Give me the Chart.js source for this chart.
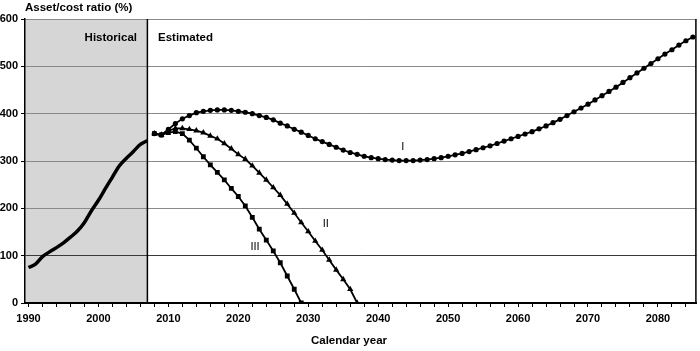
<!DOCTYPE html>
<html>
<head>
<meta charset="utf-8">
<script src="https://cdn.jsdelivr.net/npm/chart.js@4.4.1/dist/chart.umd.min.js"></script>
<style>
  body { margin: 0; background: #fff; }
  canvas { display: block; }
</style>
</head>
<body>
<canvas id="myChart" width="700" height="351"></canvas>
<script>
// values, one per calendar year
const histStart = 1990
const histValues = [75, 82, 98, 108, 117, 127, 139, 152, 170, 195, 217, 242, 266, 290, 306, 320, 335, 343]

const projStart = 2008
const seriesI = [
  358, 355, 367, 379, 389, 396, 402, 405, 407, 408, 408, 407, 405, 403, 400, 396, 392, 387, 380, 374,
  367, 361, 354, 347, 341, 335, 329, 323, 318, 314, 310, 307, 305, 303, 302, 301, 301, 301, 302, 303,
  305, 307, 310, 313, 316, 320, 324, 328, 332, 337, 342, 347, 352, 357, 362, 368, 374, 381, 388, 396,
  404, 412, 420, 429, 438, 447, 456, 466, 476, 486, 496, 506, 516, 526, 535, 545, 554, 562
]
const seriesII = [
  358, 355, 364, 369, 369, 367, 364, 360, 353, 347, 337, 326, 314, 304, 290, 275, 260, 244, 228, 209,
  190, 170, 151, 131, 112, 91, 70, 50, 29, 0
]
const seriesIII = [
  358, 355, 360, 362, 358, 344, 327, 309, 292, 276, 260, 242, 225, 205, 181, 156, 133, 110, 85, 57,
  29, 0
]

const xTickLabels = [1990, 2000, 2010, 2020, 2030, 2040, 2050, 2060, 2070, 2080]
const yTickLabels = [0, 100, 200, 300, 400, 500, 600]
const histEnd = 2007

const seriesNames = ["I", "II", "III"]
const nameSpots = [[2043.5, 330], [2032.5, 167], [2022.4, 118]]

const FONT = "'Liberation Sans', Arial, sans-serif"

function toPoints(start, values) {
  return values.map((v, i) => ({ x: start + i, y: v }))
}

const tickYears = []
for (let y = 1990; y <= 2084; y += 2) tickYears.push(y)

const decorations = {
  id: "decorations",
  beforeDraw(chart) {
    const { ctx, chartArea, scales } = chart
    const xEnd = scales.x.getPixelForValue(histEnd)
    ctx.save()
    ctx.fillStyle = "#d6d6d6"
    ctx.fillRect(chartArea.left, chartArea.top, xEnd - chartArea.left, chartArea.bottom - chartArea.top)
    ctx.restore()
  },
  afterDatasetsDraw(chart) {
    const { ctx, chartArea, scales } = chart
    const xEnd = scales.x.getPixelForValue(histEnd)
    ctx.save()
    ctx.strokeStyle = "#000"
    ctx.lineWidth = 1.5
    ctx.beginPath()
    ctx.moveTo(xEnd, chartArea.top)
    ctx.lineTo(xEnd, chartArea.bottom)
    ctx.moveTo(chartArea.right - 0.5, chartArea.top)
    ctx.lineTo(chartArea.right - 0.5, chartArea.bottom)
    ctx.stroke()

    ctx.fillStyle = "#000"
    ctx.textBaseline = "middle"
    ctx.font = "bold 11.5px " + FONT
    ctx.textAlign = "left"
    ctx.fillText("Asset/cost ratio (%)", 25, 8)
    ctx.textAlign = "right"
    ctx.fillText("Historical", 137, 38)
    ctx.textAlign = "left"
    ctx.fillText("Estimated", 158, 38)
    ctx.textAlign = "center"
    ctx.fillText("Calendar year", 349, 341)

    ctx.font = "11px " + FONT
    seriesNames.forEach((name, i) => {
      const [xv, yv] = nameSpots[i]
      ctx.fillText(name, scales.x.getPixelForValue(xv), scales.y.getPixelForValue(yv))
    })
    ctx.restore()
  }
}

const lineStyle = {
  borderColor: "#000",
  backgroundColor: "#000",
  pointBorderColor: "#000",
  pointBackgroundColor: "#000",
  borderWidth: 1.8,
  tension: 0,
  pointBorderWidth: 0,
  pointHoverRadius: 0
}

new Chart(document.getElementById("myChart").getContext("2d"), {
  type: "line",
  data: {
    datasets: [
      { ...lineStyle, label: "Historical", data: toPoints(histStart, histValues), borderWidth: 3.5, pointRadius: 0, tension: 0.3 },
      { ...lineStyle, label: "I", data: toPoints(projStart, seriesI), pointStyle: "circle", pointRadius: 2.6 },
      { ...lineStyle, label: "II", data: toPoints(projStart, seriesII), pointStyle: "triangle", pointRadius: 3.6 },
      { ...lineStyle, label: "III", data: toPoints(projStart, seriesIII), pointStyle: "rect", pointRadius: 3.4 }
    ]
  },
  options: {
    responsive: false,
    animation: false,
    events: [],
    layout: { padding: { top: 19, right: 2, left: 0, bottom: 0 } },
    plugins: { legend: { display: false }, tooltip: { enabled: false } },
    scales: {
      x: {
        type: "linear",
        min: 1989.5,
        max: 2085.5,
        afterBuildTicks: scale => { scale.ticks = tickYears.map(v => ({ value: v })) },
        afterFit: scale => { scale.height = 48 },
        grid: { drawOnChartArea: false, drawTicks: true, tickLength: 4, tickColor: "#000", tickWidth: 1 },
        border: { color: "#000", width: 2 },
        ticks: {
          autoSkip: false,
          maxRotation: 0,
          padding: 5,
          color: "#000",
          font: { family: FONT, size: 11, weight: "bold" },
          callback: v => (xTickLabels.includes(v) ? String(v) : "")
        }
      },
      y: {
        min: 0,
        max: 600,
        afterBuildTicks: scale => { scale.ticks = yTickLabels.map(v => ({ value: v })) },
        afterFit: scale => { scale.width = 25 },
        grid: {
          color: ctx => (ctx.tick && ctx.tick.value === 100 ? "#3a3a3a" : "#8a8a8a"),
          lineWidth: 1,
          tickLength: 4,
          tickColor: "#000"
        },
        border: { color: "#000", width: 1.5 },
        ticks: {
          padding: 3,
          color: "#000",
          font: { family: FONT, size: 11, weight: "bold" }
        }
      }
    }
  },
  plugins: [decorations]
})
</script>
</body>
</html>
